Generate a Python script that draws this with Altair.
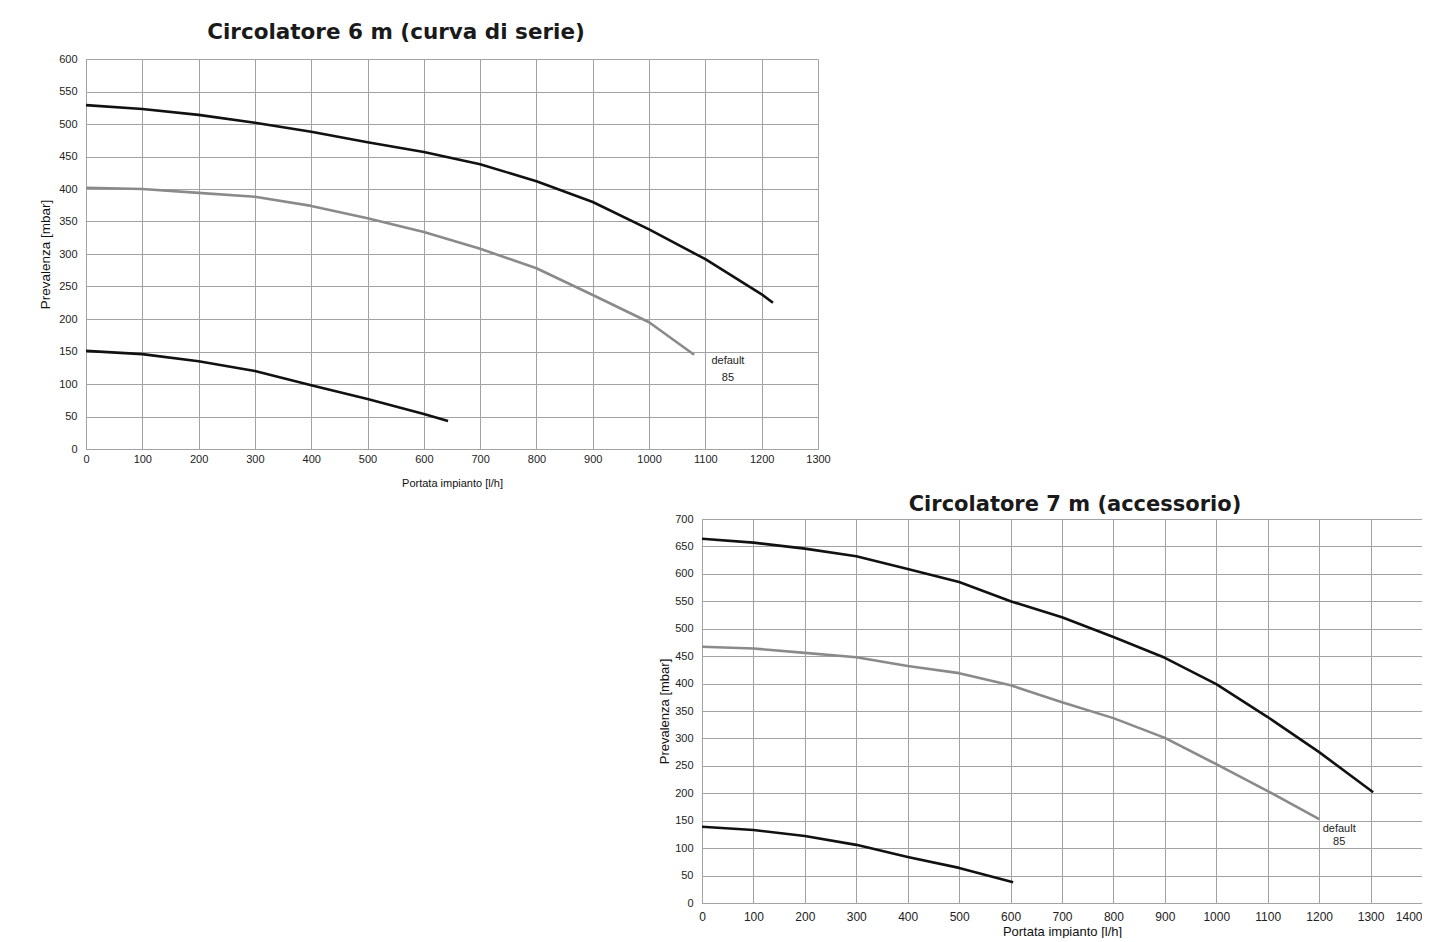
import altair as alt
import pandas as pd

# ---- Circolatore 6 m (curva di serie) ----
c6_max_x = [0, 100, 200, 300, 400, 500, 600, 700, 800, 900, 1000, 1100, 1200, 1220]
c6_max_y = [529, 523, 514, 502, 488, 472, 457, 438, 412, 380, 338, 292, 238, 225]
c6_def_x = [0, 100, 200, 300, 400, 500, 600, 700, 800, 900, 1000, 1080]
c6_def_y = [402, 400, 394, 388, 374, 355, 334, 308, 278, 237, 195, 145]
c6_min_x = [0, 100, 200, 300, 400, 500, 600, 643]
c6_min_y = [151, 146, 135, 120, 98, 77, 54, 43]
c6_lab_x = [1140, 1140]
c6_lab_y = [135, 110]
c6_lab_t = ["default", "85"]

# ---- Circolatore 7 m (accessorio) ----
c7_max_x = [0, 100, 200, 300, 400, 500, 600, 700, 800, 900, 1000, 1100, 1200, 1305]
c7_max_y = [664, 657, 646, 632, 609, 585, 550, 521, 485, 447, 399, 339, 275, 202]
c7_def_x = [0, 100, 200, 300, 400, 500, 600, 700, 800, 900, 1000, 1100, 1200]
c7_def_y = [467, 464, 456, 448, 432, 419, 397, 366, 337, 301, 253, 204, 153]
c7_min_x = [0, 100, 200, 300, 400, 500, 605]
c7_min_y = [139, 133, 122, 106, 84, 64, 38]
c7_lab_x = [1239, 1239]
c7_lab_y = [135, 111]
c7_lab_t = ["default", "85"]

titles = ["Circolatore 6 m (curva di serie)", "Circolatore 7 m (accessorio)"]
x_title = "Portata impianto [l/h]"
y_title = "Prevalenza [mbar]"

GRID = "#a3a3a3"


def series_df(parts):
    rows = []
    for name, xs, ys in parts:
        for i, (a, b) in enumerate(zip(xs, ys)):
            rows.append({"serie": name, "x": a, "y": b, "i": i})
    return pd.DataFrame(rows)


def panel(parts, lab, xmax, ymax, ystep, w, h, title, dx, toff,
          lab_font, lab_size, xlab_size, xlab_pad, ylab_pad,
          xt_size, xt_pad, yt_size, yt_pad, last_right=False, tsize=21):
    df = series_df(parts)
    ldf = pd.DataFrame({"x": lab[0], "y": lab[1], "t": lab[2]})
    xkw = {}
    if last_right:
        xkw["labelAlign"] = {"condition": {"test": f"datum.value >= {xmax}", "value": "right"},
                             "value": "center"}
    xax = alt.Axis(values=list(range(0, xmax + 1, 100)), format="d", grid=True, gridColor=GRID,
                   domainColor=GRID, ticks=False, tickSize=0, labelFlush=False,
                   labelFont=lab_font, labelFontSize=xlab_size, labelColor="#222",
                   labelPadding=xlab_pad, labelOverlap=False,
                   title=x_title, titleFont="Liberation Sans", titleFontSize=xt_size,
                   titleFontWeight="normal", titleColor="#111", titlePadding=xt_pad, **xkw)
    yax = alt.Axis(values=list(range(0, ymax + 1, ystep)), format="d", grid=True, gridColor=GRID,
                   domainColor=GRID, ticks=False, tickSize=0, labelFlush=False,
                   labelFont=lab_font, labelFontSize=lab_size, labelColor="#222",
                   labelPadding=ylab_pad, labelOverlap=False,
                   title=y_title, titleFont="Liberation Sans", titleFontSize=yt_size,
                   titleFontWeight="normal", titleColor="#111", titlePadding=yt_pad)
    xs = alt.Scale(domain=[0, xmax], nice=False, zero=True)
    ys = alt.Scale(domain=[0, ymax], nice=False, zero=True)
    lines = alt.Chart(df).mark_line(strokeWidth=2.6, strokeJoin="round").encode(
        x=alt.X("x:Q", scale=xs, axis=xax),
        y=alt.Y("y:Q", scale=ys, axis=yax),
        color=alt.Color("serie:N", scale=alt.Scale(domain=["max", "default", "min"],
                                                  range=["#111111", "#8a8a8a", "#111111"]),
                        legend=None),
        order="i:Q",
    )
    text = alt.Chart(ldf).mark_text(font="Liberation Sans", fontSize=11, color="#222",
                                    align="center", baseline="middle").encode(
        x=alt.X("x:Q", scale=xs, axis=xax), y=alt.Y("y:Q", scale=ys, axis=yax), text="t:N")
    return alt.layer(lines, text).properties(
        width=w, height=h,
        title=alt.TitleParams(title, font="DejaVu Sans", fontSize=tsize, fontWeight="bold",
                              color="#1a1a1a", anchor="middle", frame="group",
                              dx=dx, offset=toff))


top = panel([("max", c6_max_x, c6_max_y), ("default", c6_def_x, c6_def_y),
             ("min", c6_min_x, c6_min_y)],
            (c6_lab_x, c6_lab_y, c6_lab_t), 1300, 600, 50, 732, 390, titles[0], -56, 10,
            "Liberation Sans", 11, 11, 4, 9, 11, 13, 13.5, 6, tsize=21.5)

bottom = panel([("max", c7_max_x, c7_max_y), ("default", c7_def_x, c7_def_y),
                ("min", c7_min_x, c7_min_y)],
               (c7_lab_x, c7_lab_y, c7_lab_t), 1400, 700, 50, 720, 384, titles[1], 13, -2,
               "Liberation Sans", 11, 12, 8, 9, 13, 3, 13, 3, last_right=True, tsize=21)

spacer = alt.Chart(pd.DataFrame({"v": [0]})).mark_point(opacity=0).encode(
    x=alt.X("v:Q", axis=None), y=alt.Y("v:Q", axis=None)).properties(width=572, height=10)

chart = alt.vconcat(top, alt.hconcat(spacer, bottom, spacing=0), spacing=6).properties(
    padding={"left": 30, "top": 13, "right": 0, "bottom": 0},
    background="white",
).configure_view(stroke=None)

chart.save("out.html", embed_options={"renderer": "svg", "actions": False})
